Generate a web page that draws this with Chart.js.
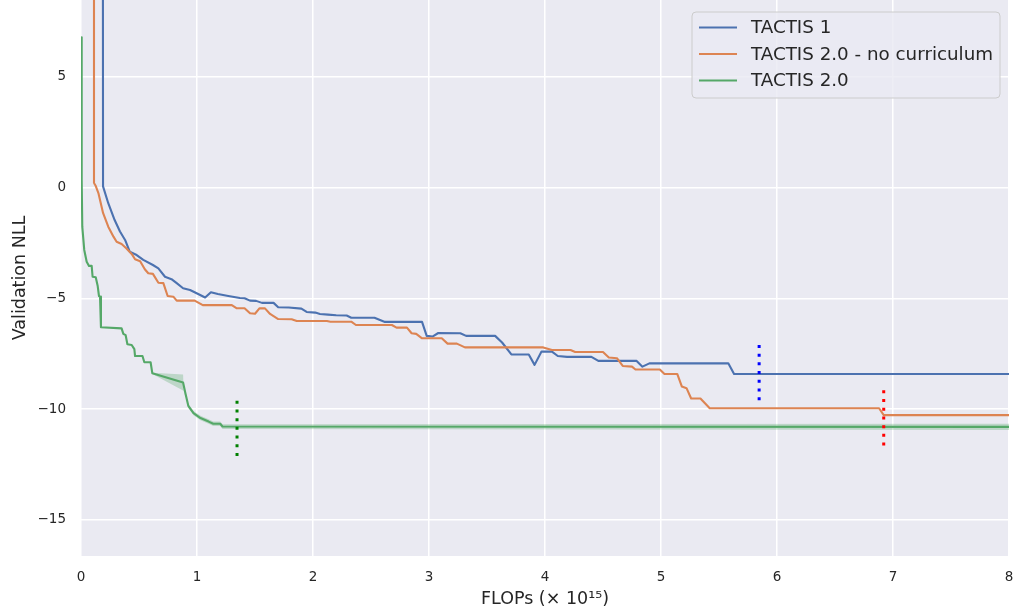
<!DOCTYPE html>
<html>
<head>
<meta charset="utf-8">
<script src="https://cdn.jsdelivr.net/npm/chart.js@4/dist/chart.umd.min.js"></script>
<style>
  html, body { margin: 0; padding: 0; background: #ffffff; }
  #wrap { width: 1014px; height: 611px; position: relative; }
</style>
</head>
<body>
<div id="wrap"><canvas id="c" width="1014" height="611"></canvas></div>
<script>
// Validation NLL against training compute, one curve per model variant.
// Each series is a list of [FLOPs (x 1e15), NLL] pairs.
const tactis1 = [
  [0.187, 25], [0.19, 0.06], [0.235, -0.7], [0.29, -1.46], [0.336, -1.98], [0.38, -2.36],
  [0.42, -2.89], [0.48, -3.04], [0.537, -3.26], [0.62, -3.49], [0.667, -3.64], [0.724, -4.02],
  [0.78, -4.13], [0.825, -4.31], [0.88, -4.54], [0.94, -4.62], [1.01, -4.8], [1.07, -4.96],
  [1.12, -4.72], [1.18, -4.8], [1.27, -4.89], [1.37, -4.98], [1.41, -4.99], [1.457, -5.1],
  [1.51, -5.11], [1.56, -5.2], [1.66, -5.2], [1.70, -5.4], [1.79, -5.41], [1.9, -5.46],
  [1.945, -5.61], [2.02, -5.64], [2.06, -5.7], [2.13, -5.73], [2.2, -5.76], [2.29, -5.77],
  [2.33, -5.87], [2.53, -5.87], [2.62, -6.06], [2.94, -6.06], [2.98, -6.69], [3.03, -6.72],
  [3.08, -6.56], [3.27, -6.57], [3.32, -6.69], [3.57, -6.69], [3.63, -6.99], [3.71, -7.53],
  [3.86, -7.53], [3.91, -8.0], [3.97, -7.4], [4.06, -7.4], [4.11, -7.6], [4.19, -7.64],
  [4.4, -7.64], [4.46, -7.82], [4.79, -7.82], [4.84, -8.08], [4.9, -7.93], [5.58, -7.93],
  [5.63, -8.41], [8.0, -8.41]
];

const tactis2NoCurriculum = [
  [0.112, 25], [0.112, 0.21], [0.125, 0.1], [0.15, -0.24], [0.19, -1.14], [0.235, -1.76],
  [0.28, -2.21], [0.307, -2.44], [0.35, -2.54], [0.39, -2.73], [0.437, -2.99], [0.466, -3.23],
  [0.51, -3.32], [0.55, -3.68], [0.58, -3.86], [0.62, -3.89], [0.667, -4.29], [0.71, -4.31],
  [0.747, -4.89], [0.796, -4.92], [0.825, -5.1], [0.98, -5.1], [1.05, -5.3], [1.30, -5.3],
  [1.34, -5.44], [1.41, -5.44], [1.457, -5.67], [1.5, -5.69], [1.54, -5.44], [1.586, -5.45],
  [1.63, -5.7], [1.70, -5.93], [1.816, -5.94], [1.86, -6.02], [2.12, -6.02], [2.15, -6.05],
  [2.33, -6.05], [2.37, -6.2], [2.68, -6.2], [2.72, -6.32], [2.81, -6.32], [2.85, -6.57],
  [2.89, -6.6], [2.94, -6.8], [3.11, -6.8], [3.16, -7.04], [3.24, -7.04], [3.31, -7.21],
  [3.985, -7.21], [4.06, -7.33], [4.22, -7.33], [4.26, -7.42], [4.5, -7.42], [4.55, -7.67],
  [4.62, -7.7], [4.67, -8.05], [4.75, -8.08], [4.78, -8.21], [4.99, -8.21], [5.03, -8.41],
  [5.14, -8.41], [5.18, -8.98], [5.22, -9.05], [5.26, -9.52], [5.34, -9.52], [5.42, -9.96],
  [6.88, -9.96], [6.92, -10.27], [8.0, -10.27]
];

const tactis2 = [
  [0.005, 6.79], [0.006, 0.36], [0.011, -1.76], [0.028, -2.81], [0.049, -3.34], [0.069, -3.53],
  [0.092, -3.53], [0.1, -4.02], [0.127, -4.04], [0.144, -4.44], [0.155, -4.89], [0.164, -4.92],
  [0.172, -6.3], [0.35, -6.35], [0.365, -6.6], [0.385, -6.66], [0.4, -7.07], [0.437, -7.1],
  [0.46, -7.29], [0.466, -7.6], [0.53, -7.6], [0.546, -7.88], [0.6, -7.88], [0.615, -8.38],
  [0.88, -8.8], [0.9, -9.28], [0.925, -9.85], [0.97, -10.18], [1.03, -10.4], [1.1, -10.56],
  [1.14, -10.66], [1.2, -10.66], [1.22, -10.78], [8.0, -10.8]
];

// Spread across seeds for TACTIS 2.0
const tactis2Upper = [
  [0.6, -7.85], [0.615, -8.35], [0.88, -8.44], [0.885, -9.2], [0.925, -9.75], [0.97, -10.08],
  [1.03, -10.3], [1.1, -10.46], [1.14, -10.56], [1.2, -10.56], [1.22, -10.68], [8.0, -10.66]
];
const tactis2Lower = [
  [0.6, -7.91], [0.615, -8.41], [0.88, -9.16], [0.9, -9.36], [0.925, -9.95], [0.97, -10.28],
  [1.03, -10.5], [1.1, -10.66], [1.14, -10.76], [1.2, -10.76], [1.22, -10.9], [8.0, -10.94]
];

// Convergence markers: [x, yTop, yBottom]
const stopTactis2 = [1.345, -9.62, -12.2];
const stopTactis1 = [5.846, -7.1, -9.7];
const stopNoCurriculum = [6.92, -9.15, -11.65];

const xTicks = [0, 1, 2, 3, 4, 5, 6, 7, 8];
const yTicks = [5, 0, -5, -10, -15];

const seriesNames = ['TACTIS 1', 'TACTIS 2.0 - no curriculum', 'TACTIS 2.0'];
const seriesColors = ['#4c72b0', '#dd8452', '#55a868'];

const FONT = '"DejaVu Sans", sans-serif';
const TEXT = '#262626';

const toPts = arr => arr.map(p => ({ x: p[0], y: p[1] }));
const vline = m => [{ x: m[0], y: m[1] }, { x: m[0], y: m[2] }];

const lineDefaults = { pointRadius: 0, borderWidth: 2.1, tension: 0, fill: false, borderJoinStyle: 'round', borderCapStyle: 'butt' };

const datasets = [
  Object.assign({}, lineDefaults, { label: seriesNames[0], data: toPts(tactis1), borderColor: seriesColors[0], order: 5 }),
  Object.assign({}, lineDefaults, { label: seriesNames[1], data: toPts(tactis2NoCurriculum), borderColor: seriesColors[1], order: 4 }),
  Object.assign({}, lineDefaults, { label: 'upper', data: toPts(tactis2Upper), borderWidth: 0, borderColor: 'rgba(0,0,0,0)', backgroundColor: 'rgba(85,168,104,0.3)', fill: '+1', order: 3 }),
  Object.assign({}, lineDefaults, { label: 'lower', data: toPts(tactis2Lower), borderWidth: 0, borderColor: 'rgba(0,0,0,0)', order: 3 }),
  Object.assign({}, lineDefaults, { label: seriesNames[2], data: toPts(tactis2), borderColor: seriesColors[2], order: 2 }),
  Object.assign({}, lineDefaults, { label: 'stop2', data: vline(stopTactis2), borderColor: '#008000', borderWidth: 3, borderDash: [3, 5.7], order: 1 }),
  Object.assign({}, lineDefaults, { label: 'stop1', data: vline(stopTactis1), borderColor: '#0000ff', borderWidth: 3, borderDash: [3, 5.7], order: 1 }),
  Object.assign({}, lineDefaults, { label: 'stopNC', data: vline(stopNoCurriculum), borderColor: '#ff0000', borderWidth: 3, borderDash: [3, 5.7], order: 1 })
];

// Axes background
const plotBackground = {
  id: 'plotBackground',
  beforeDraw(chart) {
    const { ctx, chartArea: a } = chart;
    ctx.save();
    ctx.fillStyle = '#eaeaf2';
    ctx.fillRect(a.left, a.top, a.right - a.left, a.bottom - a.top);
    ctx.restore();
  }
};

// Legend box in the upper right of the axes
const cornerLegend = {
  id: 'cornerLegend',
  afterDraw(chart) {
    const ctx = chart.ctx;
    const x0 = 692, y0 = 12, w = 308, h = 86, r = 4;
    ctx.save();
    ctx.beginPath();
    ctx.moveTo(x0 + r, y0);
    ctx.arcTo(x0 + w, y0, x0 + w, y0 + h, r);
    ctx.arcTo(x0 + w, y0 + h, x0, y0 + h, r);
    ctx.arcTo(x0, y0 + h, x0, y0, r);
    ctx.arcTo(x0, y0, x0 + w, y0, r);
    ctx.closePath();
    ctx.fillStyle = 'rgba(234,234,242,0.8)';
    ctx.fill();
    ctx.lineWidth = 1;
    ctx.strokeStyle = '#cccccc';
    ctx.stroke();
    ctx.font = '18.3px ' + FONT;
    ctx.textBaseline = 'middle';
    ctx.fillStyle = TEXT;
    const rows = [27.5, 54, 80.5];
    seriesNames.forEach((name, i) => {
      ctx.beginPath();
      ctx.moveTo(699, rows[i]);
      ctx.lineTo(737, rows[i]);
      ctx.strokeStyle = seriesColors[i];
      ctx.lineWidth = 2.1;
      ctx.stroke();
      ctx.fillText(name, 751, rows[i] + 1);
    });
    ctx.restore();
  }
};

const noEdgePadding = s => {
  s.paddingTop = 0; s.paddingBottom = 0; s.paddingLeft = 0; s.paddingRight = 0;
};

new Chart(document.getElementById('c'), {
  type: 'line',
  data: { datasets },
  options: {
    responsive: false,
    animation: false,
    layout: { padding: { left: 0, right: 5, top: 0, bottom: 0 }, autoPadding: false },
    plugins: { legend: { display: false }, tooltip: { enabled: false } },
    scales: {
      x: {
        type: 'linear',
        min: 0, max: 8,
        afterBuildTicks: s => { s.ticks = xTicks.map(v => ({ value: v })); },
        afterFit: s => { s.height = 55; noEdgePadding(s); },
        grid: { color: '#ffffff', lineWidth: 1.5, drawTicks: false },
        border: { display: false },
        ticks: { padding: 13, color: TEXT, font: { family: FONT, size: 13.5 }, maxRotation: 0, autoSkip: false },
        title: { display: true, text: 'FLOPs (× 10¹⁵)', color: TEXT, font: { family: FONT, size: 17.5 }, padding: { top: 0, bottom: 1 } }
      },
      y: {
        type: 'linear',
        min: -16.63, max: 8.476,
        afterBuildTicks: s => { s.ticks = yTicks.map(v => ({ value: v })); },
        afterFit: s => { s.width = 81; noEdgePadding(s); },
        grid: { color: '#ffffff', lineWidth: 1.5, drawTicks: false },
        border: { display: false },
        ticks: { padding: 15, color: TEXT, font: { family: FONT, size: 13.5 },
          callback: v => String(v).replace('-', '\u2212') },
        title: { display: true, text: 'Validation NLL', color: TEXT, font: { family: FONT, size: 17.5 }, padding: { top: 10, bottom: 0 } }
      }
    }
  },
  plugins: [plotBackground, cornerLegend]
});
</script>
</body>
</html>
